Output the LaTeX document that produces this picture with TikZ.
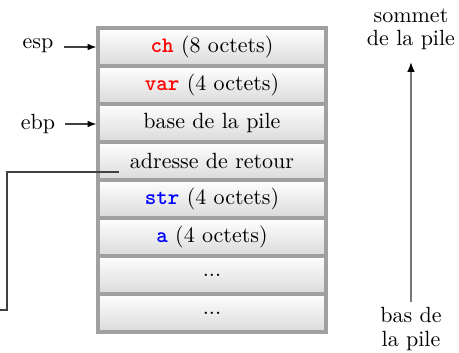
\documentclass[tikz,border=0pt]{standalone}
\usetikzlibrary{arrows.meta}
\definecolor{cellborder}{RGB}{160,160,160}
\definecolor{cellbottom}{RGB}{218,218,218}
\definecolor{axisgray}{RGB}{120,120,120}
\newcommand{\redvar}[1]{\textcolor{red}{\texttt{\bfseries #1}}}
\newcommand{\bluevar}[1]{\textcolor{blue}{\texttt{\bfseries #1}}}
\begin{document}
\begin{tikzpicture}[x=0.4545pt,y=-0.4545pt,
  cell/.style={draw=cellborder,line width=1.4pt,top color=white,bottom color=cellbottom,
    minimum width=228*0.4545pt,minimum height=38*0.4545pt,inner sep=0pt,anchor=center},
  reg/.style={inner sep=1pt},
  ptr/.style={-{Latex[length=4pt,width=3pt,color=black]},draw=black!75,line width=0.5pt},
  lbl/.style={align=center,inner sep=1pt}]
  \useasboundingbox (0,0) rectangle (459,353);
  % stack cells, top to bottom
  \node[cell] (c1) at (212,47)  {\redvar{ch} (8 octets)};
  \node[cell] (c2) at (212,85)  {\redvar{var} (4 octets)};
  \node[cell] (c3) at (212,123) {base de la pile};
  \node[cell] (c4) at (212,161) {adresse de retour};
  \node[cell] (c5) at (212,199) {\bluevar{str} (4 octets)};
  \node[cell] (c6) at (212,237) {\bluevar{a} (4 octets)};
  \node[cell] (c7) at (212,275) {...};
  \node[cell] (c8) at (212,313) {...};
  % register pointers
  \node[reg] (esp) at (38,46) {esp};
  \node[reg] (ebp) at (38,124) {ebp};
  \draw[ptr] ([xshift=8*0.4545pt]esp.east |- c1.west) -- (c1.west);
  \draw[ptr] ([xshift=7*0.4545pt]ebp.east) -- (c3.west |- ebp.east);
  % return-address link leaving the frame
  \coordinate (r0) at (119,172);
  \coordinate (r1) at (7,172);
  \coordinate (r2) at (7,310);
  \coordinate (r3) at (-4,310);
  \draw[draw=black!75,line width=0.5pt] (r0) -- (r1) -- (r2) -- (r3);
  % growth direction of the stack
  \node[lbl] (top) at (411,29) {sommet\\[-1.5pt]de la pile};
  \node[lbl] (bot) at (411,329) {bas de\\[-1pt]la pile};
  \draw[-{Latex[length=4.5pt,width=3.5pt,color=black]},draw=axisgray,line width=0.7pt] (411,302) -- (411,62);
\end{tikzpicture}
\end{document}
